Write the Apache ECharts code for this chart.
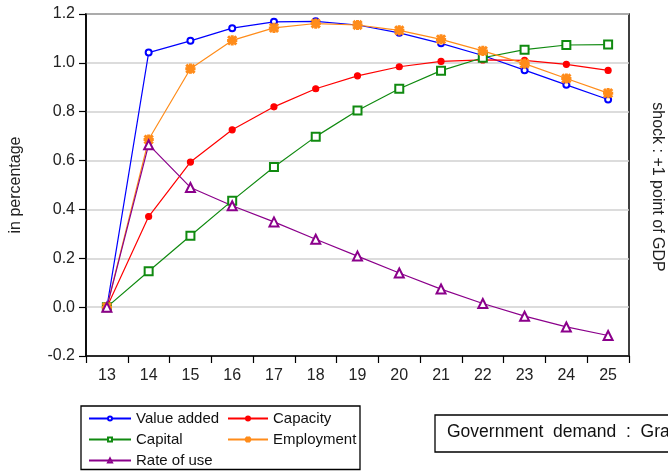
<!DOCTYPE html>
<html>
<head>
<meta charset="utf-8">
<script src="https://cdn.jsdelivr.net/npm/echarts@6/dist/echarts.min.js"></script>
<style>html,body{margin:0;padding:0;background:#fff;}#c{width:668px;height:472px;}</style>
</head>
<body>
<div id="c"></div>
<script>
var categories = ['13','14','15','16','17','18','19','20','21','22','23','24','25'];
var valueAdded = [0, 1.042, 1.090, 1.142, 1.168, 1.170, 1.155, 1.123, 1.080, 1.030, 0.970, 0.910, 0.850];
var capacity   = [0, 0.371, 0.594, 0.726, 0.820, 0.894, 0.947, 0.984, 1.006, 1.012, 1.010, 0.994, 0.969];
var capital    = [0, 0.147, 0.292, 0.436, 0.574, 0.698, 0.805, 0.894, 0.968, 1.021, 1.054, 1.073, 1.075];
var employment = [0, 0.686, 0.976, 1.092, 1.143, 1.161, 1.155, 1.133, 1.096, 1.049, 0.997, 0.936, 0.876];
var rateOfUse  = [0, 0.665, 0.490, 0.415, 0.349, 0.278, 0.209, 0.140, 0.074, 0.015, -0.037, -0.081, -0.116];

var yTicks = { min: -0.2, max: 1.2, interval: 0.2 };
var yAxisName = 'in percentage';
var sideNote = 'shock : +1 point of GDP';
var boxNote = 'Government  demand  :  Gra';

var asterisk = 'path://M0,4L10,4L10,6L0,6Z M4,0L6,0L6,10L4,10Z M1.6,0.2L9.8,8.4L8.4,9.8L0.2,1.6Z M8.4,0.2L9.8,1.6L1.6,9.8L0.2,8.4Z';
var FONT = 'Liberation Sans, Arial, sans-serif';

function mk(name, data, color, symbol, size) {
  return {
    name: name, type: 'line', data: data,
    symbol: symbol, symbolSize: size,
    showAllSymbol: true,
    lineStyle: { color: color, width: 1.2 },
    itemStyle: { color: color, borderColor: color, borderWidth: 1.2 },
    emphasis: { disabled: true },
    animation: false
  };
}

var legendBase = {
  orient: 'vertical', top: 411, height: 90, padding: 0,
  itemHeight: 5, itemGap: 6, selectedMode: false,
  textStyle: { color: '#111', fontSize: 15, fontFamily: FONT, lineHeight: 14 }
};

var chart = echarts.init(document.getElementById('c'), null, { renderer: 'canvas' });
chart.setOption({
  backgroundColor: '#fff',
  animation: false,
  grid: { left: 83, right: 39, top: 14, bottom: 116, show: true, borderColor: '#000', borderWidth: 1.5, backgroundColor: 'transparent' },
  xAxis: {
    type: 'category', data: categories, boundaryGap: true,
    axisLine: { onZero: false, lineStyle: { color: '#000', width: 1.5 } },
    axisTick: { show: true, length: 7, lineStyle: { color: '#000', width: 1.2 } },
    axisLabel: { color: '#222', fontSize: 16, fontFamily: FONT, margin: 12 },
    splitLine: { show: false }
  },
  yAxis: {
    type: 'value', min: yTicks.min, max: yTicks.max, interval: yTicks.interval,
    name: yAxisName, nameLocation: 'middle', nameGap: 62, nameRotate: 90,
    nameTextStyle: { color: '#222', fontSize: 16, fontFamily: FONT },
    axisLine: { show: true, lineStyle: { color: '#000', width: 1.5 } },
    axisTick: { show: true, length: 7, lineStyle: { color: '#000', width: 1.2 } },
    axisLabel: { color: '#222', fontSize: 16, fontFamily: FONT, margin: 11, formatter: function (v) { return v.toFixed(1); } },
    splitLine: { show: true, lineStyle: { color: '#d0d0d0', width: 1.5 } }
  },
  legend: [
    Object.assign({}, legendBase, { data: ['Value added', 'Capital', 'Rate of use'], left: 88, itemWidth: 42 }),
    Object.assign({}, legendBase, { data: ['Capacity', 'Employment'], left: 227, itemWidth: 40 })
  ],
  graphic: [
    { type: 'rect', shape: { x: 81, y: 406, width: 279, height: 63.5 }, style: { fill: 'none', stroke: '#000', lineWidth: 1.3 }, z: 10 },
    { type: 'rect', shape: { x: 435, y: 415, width: 260, height: 37 }, style: { fill: '#fff', stroke: '#000', lineWidth: 1.3 }, z: 10 },
    { type: 'text', left: 447, top: 423, style: { text: boxNote, fill: '#111', font: '17.5px ' + FONT }, z: 11 },
    { type: 'text', x: 657, y: 187, rotation: -Math.PI / 2, style: { text: sideNote, fill: '#222', font: '16px ' + FONT, align: 'center', verticalAlign: 'middle' } }
  ],
  series: [
    mk('Value added', valueAdded, '#0000ff', 'emptyCircle', 6),
    mk('Capacity', capacity, '#ff0000', 'circle', 6),
    mk('Capital', capital, '#108a10', 'emptyRect', 8),
    mk('Employment', employment, '#ff8c1a', asterisk, 9),
    mk('Rate of use', rateOfUse, '#8b008b', 'emptyTriangle', 9)
  ]
});
</script>
</body>
</html>
